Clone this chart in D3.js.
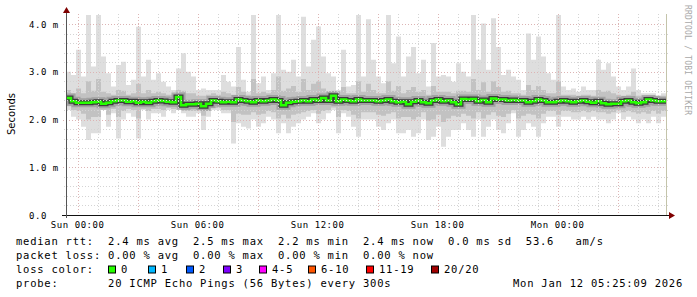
<!DOCTYPE html>
<html>
<head>
<meta charset="utf-8">
<script src="https://cdn.jsdelivr.net/npm/d3@7"></script>
<style>
  body { margin: 0; background: #fff; }
  svg { display: block; }
  text { white-space: pre; }
</style>
</head>
<body>
<div id="chart"></div>
<script>
// smokeping style rtt graph, 30 hours, one column every 15 minutes (values in ms)
var maxRtt = [3.00,2.93,3.46,2.90,4.19,3.11,4.19,3.32,2.97,2.69, 3.14,3.21,2.72,2.83,3.94,2.90,3.25,2.83,2.97,2.79,
              2.69,2.62,3.07,3.39,3.00,2.90,2.62,2.65,2.62,2.62, 2.62,2.93,2.79,2.69,3.52,2.83,2.58,4.19,2.76,2.90,
              2.62,2.97,4.19,3.04,3.00,3.25,2.90,4.15,3.11,3.67, 3.95,3.32,2.97,2.90,2.62,3.46,2.69,2.72,4.19,2.90,
              4.10,3.25,2.90,2.76,4.19,3.18,3.74,2.90,3.32,3.52, 2.97,3.25,2.69,3.60,2.90,2.93,2.90,2.79,3.18,3.00,
              2.90,4.19,3.25,4.01,3.04,4.12,3.52,2.93,3.04,2.90, 2.83,2.62,3.80,3.25,3.74,3.32,2.97,2.83,4.19,2.69,
              2.62,2.65,2.58,2.69,2.62,2.62,3.25,3.04,3.18,2.90, 2.69,2.62,2.69,3.07,2.62,2.55,2.55,2.55,2.51,2.55];
var upRtt  = [2.62,2.55,2.65,2.55,2.80,2.60,2.85,2.58,2.55,2.52, 2.62,2.60,2.52,2.55,2.75,2.55,2.62,2.55,2.58,2.55,
              2.52,2.52,2.62,2.60,2.55,2.55,2.50,2.50,2.52,2.55, 2.52,2.58,2.55,2.52,2.68,2.58,2.52,2.85,2.55,2.58,
              2.55,2.62,2.90,2.60,2.65,2.70,2.58,2.85,2.62,2.75, 2.80,2.65,2.58,2.60,2.52,2.68,2.55,2.55,2.80,2.58,
              2.75,2.62,2.55,2.55,2.80,2.60,2.70,2.55,2.62,2.68, 2.58,2.62,2.52,2.70,2.58,2.58,2.58,2.55,2.60,2.60,
              2.58,2.85,2.62,2.78,2.58,2.80,2.68,2.58,2.60,2.55, 2.55,2.52,2.72,2.62,2.70,2.62,2.55,2.55,2.80,2.52,
              2.52,2.52,2.50,2.52,2.52,2.50,2.62,2.58,2.60,2.55, 2.52,2.50,2.52,2.58,2.50,2.48,2.50,2.50,2.48,2.50];
var medRtt = [2.45,2.38,2.35,2.35,2.35,2.36,2.37,2.33,2.35,2.38, 2.40,2.40,2.37,2.38,2.35,2.37,2.35,2.38,2.40,2.39,
              2.37,2.36,2.47,2.30,2.32,2.32,2.33,2.28,2.33,2.40, 2.38,2.36,2.37,2.36,2.42,2.40,2.38,2.36,2.40,2.38,
              2.40,2.42,2.40,2.30,2.35,2.37,2.38,2.40,2.38,2.42, 2.40,2.45,2.40,2.50,2.38,2.42,2.40,2.38,2.42,2.40,
              2.40,2.40,2.38,2.40,2.42,2.38,2.36,2.37,2.32,2.37, 2.40,2.36,2.34,2.40,2.42,2.38,2.40,2.36,2.32,2.43,
              2.42,2.43,2.38,2.41,2.36,2.44,2.42,2.42,2.40,2.41, 2.40,2.40,2.36,2.38,2.42,2.40,2.36,2.36,2.38,2.40,
              2.38,2.36,2.38,2.40,2.37,2.35,2.38,2.34,2.32,2.33, 2.33,2.38,2.40,2.36,2.34,2.36,2.42,2.40,2.38,2.38];
var lowRtt = [2.28,2.20,2.18,2.12,2.00,2.05,2.05,2.20,2.10,2.22, 2.05,2.18,2.22,2.20,2.02,2.22,2.18,2.22,2.22,2.20,
              2.24,2.22,2.25,2.18,2.18,2.18,2.20,2.08,2.18,2.24, 2.24,2.20,2.20,1.95,2.12,2.10,2.10,2.15,2.10,2.12,
              2.18,2.15,2.02,2.10,2.02,2.10,2.12,2.15,2.18,2.20, 2.12,2.18,2.20,2.25,2.05,2.20,2.18,2.10,2.02,2.15,
              2.15,2.15,2.10,2.08,2.12,2.15,2.02,2.05,2.05,2.00, 2.05,2.15,1.98,2.00,2.10,1.95,2.02,2.08,2.05,2.12,
              2.08,2.02,2.15,2.02,2.10,2.15,2.08,2.05,2.12,2.20, 2.02,2.08,2.12,2.10,2.02,2.12,2.18,2.18,2.10,2.18,
              2.18,2.15,2.15,2.18,2.15,2.18,2.15,2.15,2.12,2.15, 2.20,2.15,2.18,2.15,2.12,2.15,2.12,2.18,2.12,2.18];
var minRtt = [2.20,2.06,2.00,1.85,1.57,1.71,1.71,2.20,1.85,2.13, 1.60,2.00,2.13,2.06,1.60,2.20,2.00,2.13,2.13,2.06,
              2.20,2.13,2.20,2.13,2.06,2.06,2.13,1.78,2.06,2.20, 2.20,2.13,2.13,1.50,1.92,1.85,1.81,2.00,1.85,1.92,
              2.06,2.00,1.71,1.92,1.71,1.85,1.92,2.00,2.06,2.13, 1.92,2.00,2.13,2.20,1.71,2.13,2.06,1.85,1.64,2.00,
              2.00,2.00,1.85,1.78,1.92,2.00,1.71,1.71,1.78,1.64, 1.71,2.00,1.57,1.64,1.85,1.43,1.64,1.78,1.78,1.92,
              1.78,1.64,2.00,1.64,1.85,2.00,1.78,1.71,1.92,2.13, 1.64,1.78,1.92,1.85,1.64,1.92,2.06,2.06,1.85,2.06,
              2.06,2.00,2.00,2.06,2.00,2.06,2.00,2.00,1.92,2.00, 2.13,2.00,2.06,2.00,1.92,2.00,1.92,2.06,1.92,2.06];

var yTicks  = [0, 1, 2, 3, 4];
var yLabels = ["0.0", "1.0 m", "2.0 m", "3.0 m", "4.0 m"];

var statLines = [
  "median rtt:  2.4 ms avg  2.5 ms max  2.2 ms min  2.4 ms now  0.0 ms sd  53.6   am/s",
  "packet loss: 0.00 % avg  0.00 % max  0.00 % min  0.00 % now"
];
var lossTitle  = "loss color:";
var lossLabels = ["0", "1", "2", "3", "4-5", "6-10", "11-19", "20/20"];
var lossColors = ["#26ff00", "#00b8ff", "#0059ff", "#7e00ff", "#ff00ff", "#ff5500", "#ff0000", "#a10000"];
var probeLine  = "probe:       20 ICMP Echo Pings (56 Bytes) every 300s";
var stampText  = "Mon Jan 12 05:25:09 2026";

// canvas and plot box (names avoid window.top etc.)
var W = 697, H = 297;
var plotL = 66, plotR = 666, plotT = 14, plotB = 215;

var svg = d3.select("#chart").append("svg")
    .attr("width", W)
    .attr("height", H)
    .style("font-family", "'DejaVu Sans Mono', monospace");

svg.append("rect").attr("width", W).attr("height", H).attr("fill", "#fff");

// time axis: 15 minute columns ending at the graph time
var start = new Date(2026, 0, 10, 23, 25);
var stepMs = 15 * 60 * 1000;
var n = medRtt.length;
var end = new Date(start.getTime() + n * stepMs);
function tAt(i) { return new Date(start.getTime() + i * stepMs); }

var x = d3.scaleTime().domain([start, end]).range([plotL, plotR]);
var y = d3.scaleLinear().domain([0, 4]).range([plotB, 24]);

svg.append("clipPath").attr("id", "plot")
  .append("rect")
    .attr("x", plotL).attr("y", plotT)
    .attr("width", plotR - plotL).attr("height", plotB - plotT);

var cols = d3.range(n + 1);
function v(arr, i) { return arr[Math.min(i, n - 1)]; }

var g = svg.append("g").attr("clip-path", "url(#plot)");

// smoke: outer and inner bands
function band(lo, hi) {
  return d3.area()
    .curve(d3.curveStepAfter)
    .x(function(i) { return x(tAt(i)); })
    .y0(function(i) { return y(v(lo, i)); })
    .y1(function(i) { return y(v(hi, i)); });
}
g.append("path").attr("d", band(minRtt, maxRtt)(cols)).attr("fill", "#dedede");
g.append("path").attr("d", band(lowRtt, upRtt)(cols)).attr("fill", "#c2c2c2");

var medLine = d3.line()
  .curve(d3.curveStepAfter)
  .x(function(i) { return x(tAt(i)); })
  .y(function(i) { return y(v(medRtt, i)); });

g.append("path").attr("d", medLine(cols))
  .attr("fill", "none").attr("stroke", "#8c8c8c").attr("stroke-width", 9).attr("stroke-opacity", 0.6);
g.append("path").attr("d", medLine(cols))
  .attr("fill", "none").attr("stroke", "#3c3c3c").attr("stroke-width", 5);
g.append("path").attr("d", medLine(cols))
  .attr("fill", "none").attr("stroke", lossColors[0]).attr("stroke-width", 2.5);

// grid (drawn over the data like rrdtool does)
var grid = svg.append("g").attr("stroke-dasharray", "1,2").attr("stroke-width", 1).attr("fill", "none");
var minorY = d3.range(1, 21).map(function(k) { return k * 0.2; }).filter(function(d, k) { return (k + 1) % 5 !== 0; });

grid.selectAll(".hmin").data(minorY).enter().append("line")
  .attr("x1", plotL - 2).attr("x2", plotR + 2)
  .attr("y1", function(d) { return Math.round(y(d)) + 0.5; })
  .attr("y2", function(d) { return Math.round(y(d)) + 0.5; })
  .attr("stroke", "#d4d4d4");

var hours = d3.timeHour.every(1).range(start, end);
grid.selectAll(".vmin").data(hours.filter(function(d) { return d.getHours() % 3 !== 0; })).enter().append("line")
  .attr("x1", function(d) { return Math.round(x(d)) + 0.5; })
  .attr("x2", function(d) { return Math.round(x(d)) + 0.5; })
  .attr("y1", plotT).attr("y2", plotB + 2)
  .attr("stroke", "#d4d4d4");

grid.selectAll(".vmaj").data(hours.filter(function(d) { return d.getHours() % 3 === 0; })).enter().append("line")
  .attr("x1", function(d) { return Math.round(x(d)) + 0.5; })
  .attr("x2", function(d) { return Math.round(x(d)) + 0.5; })
  .attr("y1", plotT).attr("y2", plotB + 3)
  .attr("stroke", "#dcb4b4");

grid.selectAll(".hmaj").data(yTicks.slice(1)).enter().append("line")
  .attr("x1", plotL - 3).attr("x2", plotR + 2)
  .attr("y1", function(d) { return Math.round(y(d)) + 0.5; })
  .attr("y2", function(d) { return Math.round(y(d)) + 0.5; })
  .attr("stroke", "#dcb4b4");

// right edge marker
svg.append("line")
  .attr("x1", plotR + 0.5).attr("x2", plotR + 0.5)
  .attr("y1", plotT).attr("y2", plotB)
  .attr("stroke", "#c4c4aa");

// axes with arrows
svg.append("line")
  .attr("x1", plotL - 4).attr("x2", plotR + 3)
  .attr("y1", plotB + 0.5).attr("y2", plotB + 0.5)
  .attr("stroke", "#111");
svg.append("line")
  .attr("x1", plotL + 0.5).attr("x2", plotL + 0.5)
  .attr("y1", plotB + 3).attr("y2", 9)
  .attr("stroke", "#555");
svg.append("path")
  .attr("d", "M" + (plotR + 3) + "," + (plotB - 3) + "L" + (plotR + 9) + "," + (plotB + 0.5) + "L" + (plotR + 3) + "," + (plotB + 4) + "Z")
  .attr("fill", "#7f0000");
svg.append("path")
  .attr("d", "M" + (plotL - 3) + ",13L" + (plotL + 0.5) + ",7L" + (plotL + 4) + ",13Z")
  .attr("fill", "#7f0000");

// y labels
svg.selectAll(".ylab").data(yTicks).enter().append("text")
  .attr("x", 29)
  .attr("y", function(d) { return y(d) + 3.5; })
  .attr("font-size", "9px")
  .attr("letter-spacing", "0.55px")
  .attr("fill", "#000")
  .text(function(d, i) { return yLabels[i]; });

// x labels every 6 hours
var fmt = d3.timeFormat("%a %H:%M");
svg.selectAll(".xlab").data(d3.timeHour.every(6).range(start, end)).enter().append("text")
  .attr("x", function(d) { return x(d); })
  .attr("y", 228)
  .attr("text-anchor", "middle")
  .attr("font-size", "9px")
  .attr("letter-spacing", "0.55px")
  .attr("fill", "#000")
  .text(function(d) { return fmt(d); });

// axis title
svg.append("text")
  .attr("transform", "translate(15,114) rotate(-90)")
  .attr("text-anchor", "middle")
  .attr("font-family", "'DejaVu Sans', sans-serif")
  .attr("font-size", "10px")
  .attr("fill", "#000")
  .text("Seconds");

// watermark
svg.append("text")
  .attr("transform", "translate(684.5,5) rotate(90)")
  .attr("font-size", "8px")
  .attr("letter-spacing", "0.2px")
  .attr("fill", "#a8a8a8")
  .text("RRDTOOL / TOBI OETIKER");

// legend
var legFont = { size: "10.5px", spacing: "0.76px" };
function legText(str, lx, ly) {
  return svg.append("text")
    .attr("x", lx).attr("y", ly)
    .attr("font-size", legFont.size)
    .attr("letter-spacing", legFont.spacing)
    .attr("fill", "#000")
    .text(str);
}
legText(statLines[0], 16, 245);
legText(statLines[1], 16, 259);
legText(lossTitle, 16, 273);
legText(probeLine, 16, 287);
legText(stampText, 513, 287);

var boxX = [108, 148, 186, 223, 259, 308, 366, 431];
var entries = svg.selectAll(".loss").data(lossLabels).enter().append("g");
entries.append("rect")
  .attr("x", function(d, i) { return boxX[i] + 0.5; })
  .attr("y", 266)
  .attr("width", 7).attr("height", 7)
  .attr("fill", function(d, i) { return lossColors[i]; })
  .attr("stroke", "#000");
entries.append("text")
  .attr("x", function(d, i) { return boxX[i] + 13; })
  .attr("y", 273)
  .attr("font-size", legFont.size)
  .attr("letter-spacing", legFont.spacing)
  .attr("fill", "#000")
  .text(function(d) { return d; });
</script>
</body>
</html>
